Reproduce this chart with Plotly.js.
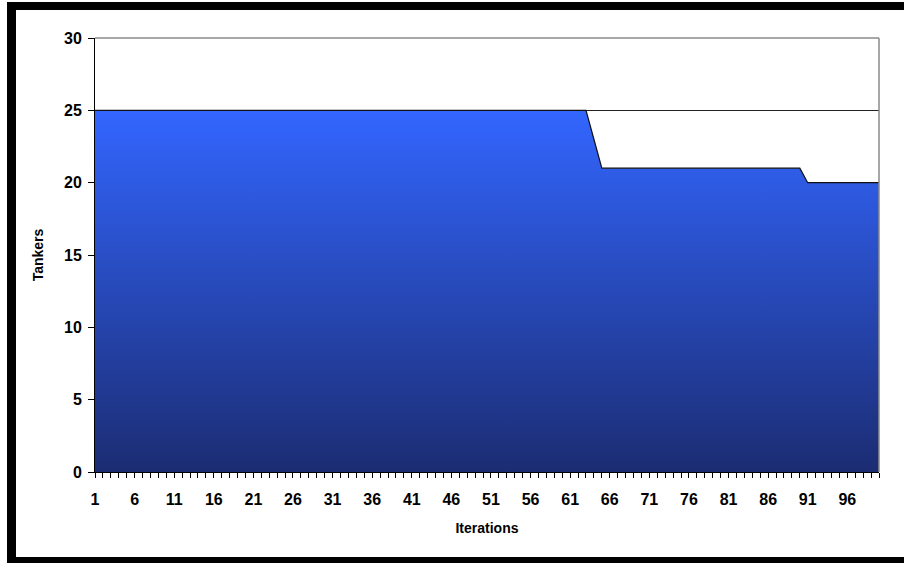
<!DOCTYPE html>
<html>
<head>
<meta charset="utf-8">
<script src="https://cdn.plot.ly/plotly-3.0.1.min.js"></script>
<style>
  html, body { margin: 0; padding: 0; background: #ffffff; }
  #wrap { position: relative; width: 904px; height: 563px; overflow: hidden; }
  #chart { position: absolute; left: 0; top: 0; width: 904px; height: 563px; }
  #frame {
    position: absolute; left: 7px; top: 2px; width: 897px; height: 561px;
    box-sizing: border-box;
    border-left: 9px solid #000; border-top: 8px solid #000; border-bottom: 6px solid #000;
    pointer-events: none;
  }
</style>
</head>
<body>
<div id="wrap">
  <div id="chart"></div>
  <div id="frame"></div>
</div>
<script>
// Number of tankers in service at each iteration
const iterations = Array.from({length: 100}, (_, i) => i + 1);
const tankers = [
  25,25,25,25,25,25,25,25,25,25,
  25,25,25,25,25,25,25,25,25,25,
  25,25,25,25,25,25,25,25,25,25,
  25,25,25,25,25,25,25,25,25,25,
  25,25,25,25,25,25,25,25,25,25,
  25,25,25,25,25,25,25,25,25,25,
  25,25,25,23,21,21,21,21,21,21,
  21,21,21,21,21,21,21,21,21,21,
  21,21,21,21,21,21,21,21,21,21,
  20,20,20,20,20,20,20,20,20,20
];
const yTicks = [0, 5, 10, 15, 20, 25, 30];

const fontFam = '"Liberation Sans", Arial, sans-serif';
const tickFont = {family: fontFam, size: 16, color: '#000', weight: 'bold'};

const trace = {
  x: iterations,
  y: tankers,
  type: 'scatter',
  mode: 'lines',
  line: {color: '#111', width: 1.2},
  fill: 'tozeroy',
  fillgradient: {
    type: 'vertical',
    start: 0,
    stop: 25,
    colorscale: [[0, '#1b2c72'], [1, '#3366ff']]
  },
  hoverinfo: 'x+y'
};

const layout = {
  width: 904,
  height: 563,
  margin: {l: 95, r: 25, t: 38, b: 91},
  paper_bgcolor: '#ffffff',
  plot_bgcolor: '#ffffff',
  showlegend: false,
  font: {family: fontFam},
  xaxis: {
    range: [1, 100],
    tick0: 1,
    dtick: 5,
    ticks: 'outside',
    ticklen: 5,
    tickwidth: 1,
    tickcolor: '#000',
    minor: {tick0: 1, dtick: 1, ticks: 'outside', ticklen: 5, tickcolor: '#000', showgrid: false},
    showgrid: false,
    zeroline: false,
    showline: true,
    linecolor: '#000',
    linewidth: 1,
    tickfont: tickFont,
    ticklabelstandoff: 8,
    title: {text: 'Iterations', font: {family: fontFam, size: 14, color: '#000', weight: 'bold'}, standoff: 15},
    fixedrange: true
  },
  yaxis: {
    range: [0, 30],
    tickvals: yTicks,
    ticks: 'outside',
    ticklen: 6,
    tickwidth: 1,
    tickcolor: '#000',
    showgrid: true,
    gridcolor: '#222',
    gridwidth: 1,
    zeroline: false,
    showline: true,
    linecolor: '#000',
    linewidth: 1,
    tickfont: tickFont,
    ticklabelstandoff: 3,
    title: {text: 'Tankers', font: {family: fontFam, size: 14, color: '#000', weight: 'bold'}, standoff: 17},
    fixedrange: true
  },
  shapes: [
    {type: 'line', xref: 'paper', yref: 'paper', x0: 0, x1: 1, y0: 1, y1: 1, line: {color: '#8a8a8a', width: 1.5}, layer: 'above'},
    {type: 'line', xref: 'paper', yref: 'paper', x0: 1, x1: 1, y0: 0, y1: 1, line: {color: '#8a8a8a', width: 1.5}, layer: 'above'}
  ]
};

Plotly.newPlot('chart', [trace], layout, {staticPlot: true, displayModeBar: false});
</script>
</body>
</html>
